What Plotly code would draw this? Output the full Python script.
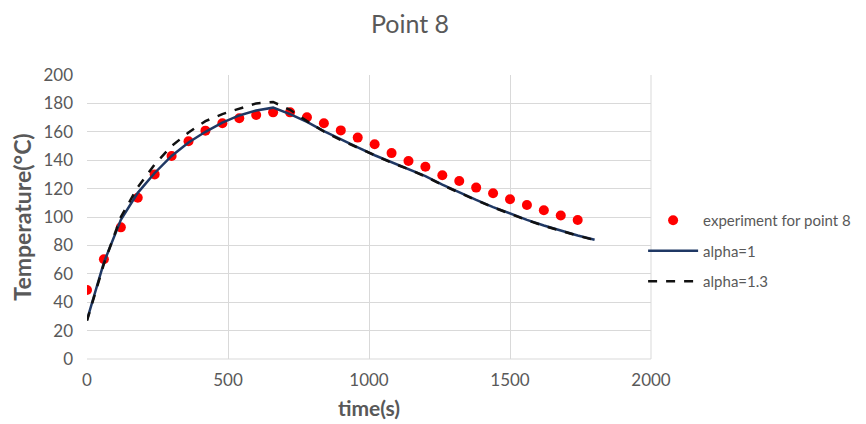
import plotly.graph_objects as go

# Experiment for point 8 (every 60 s)
exp_time = [0, 60, 120, 180, 240, 300, 360, 420, 480, 540, 600, 660, 720, 780, 840,
            900, 960, 1020, 1080, 1140, 1200, 1260, 1320, 1380, 1440, 1500, 1560,
            1620, 1680, 1740]
exp_temp = [48.6, 70.2, 92.7, 113.6, 130.0, 143.0, 153.3, 160.8, 166.0, 169.5, 171.8,
            173.7, 173.7, 170.2, 166.0, 161.0, 155.9, 151.2, 145.0, 139.4, 135.4,
            129.4, 125.4, 120.7, 116.7, 112.5, 108.5, 104.7, 101.0, 97.9]

# Simulations
sim_time = [0, 60, 120, 180, 240, 300, 360, 420, 480, 540, 600, 660, 720, 780, 840,
            900, 960, 1020, 1080, 1140, 1200, 1260, 1320, 1380, 1440, 1500, 1560,
            1620, 1680, 1740, 1800]
alpha1 = [27.5, 68, 98, 117, 131, 143, 152.5, 160, 166.5, 171.5, 175, 177, 172.5, 167,
          160.5, 154.5, 149, 143.5, 138.5, 134, 128.8, 122.8, 117.2, 112, 107, 102.3,
          98, 94, 90.3, 87, 84]
alpha13 = [27, 67, 100, 121, 137, 150, 159.5, 167.5, 172.5, 176.5, 180, 181, 175.5, 167.5,
           160.2, 154.2, 148.7, 143.2, 138.2, 133.7, 128.5, 122.5, 117, 111.8, 106.8, 102.1,
           97.8, 93.8, 90.1, 86.8, 83.8]

x_ticks = [0, 500, 1000, 1500, 2000]
y_ticks = [0, 20, 40, 60, 80, 100, 120, 140, 160, 180, 200]

FONT = "Lato"
GREY = "#595959"

fig = go.Figure()
fig.add_trace(go.Scatter(x=exp_time, y=exp_temp, mode="markers", name="experiment for point 8",
                         legendgroup="a",
                         marker=dict(color="#ff0000", size=10)))
fig.add_trace(go.Scatter(x=sim_time, y=alpha1, mode="lines", name="alpha=1",
                         legendgroup="b",
                         line=dict(color="#1f3864", width=2.5)))
fig.add_trace(go.Scatter(x=sim_time, y=alpha13, mode="lines", name="alpha=1.3",
                         legendgroup="c",
                         line=dict(color="#111111", width=2.5, dash="dash")))

fig.update_layout(
    width=858, height=416,
    margin=dict(l=79, r=215, t=67, b=65, autoexpand=False),
    paper_bgcolor="white", plot_bgcolor="white",
    font=dict(family=FONT, color=GREY, size=16),
    title=dict(text="Point 8", x=0.4685, xanchor="center", y=0.96, yanchor="middle",
               font=dict(family=FONT, size=25, color=GREY)),
    showlegend=True,
    legend=dict(x=0.986, xanchor="left", y=0.38, yanchor="middle",
                font=dict(family=FONT, size=15, color=GREY),
                itemwidth=50,
                tracegroupgap=8, bgcolor="rgba(0,0,0,0)"),
    xaxis=dict(range=[0, 2000], tickvals=x_ticks, showgrid=True, gridcolor="#d9d9d9",
               gridwidth=1, zeroline=False, showline=False, ticks="",
               ticklabelstandoff=9,
               tickfont=dict(size=17, color=GREY),
               title=dict(text="<b>time(s)</b>", font=dict(size=21, color=GREY), standoff=12)),
    yaxis=dict(range=[0, 200], tickvals=y_ticks, showgrid=True, gridcolor="#d9d9d9",
               gridwidth=1, zeroline=False, showline=False, ticks="",
               ticklabelstandoff=13,
               tickfont=dict(size=17, color=GREY),
               title=dict(text="<b>Temperature(°C)</b>", font=dict(size=23, color=GREY), standoff=6)),
)
fig.add_shape(type="line", xref="paper", yref="paper", x0=0, x1=1, y0=0, y1=0,
              line=dict(color="#d9d9d9", width=1), layer="below")
fig.add_shape(type="line", xref="paper", yref="paper", x0=1, x1=1, y0=0, y1=1,
              line=dict(color="#d9d9d9", width=1), layer="below")

fig.write_html("out.html")
